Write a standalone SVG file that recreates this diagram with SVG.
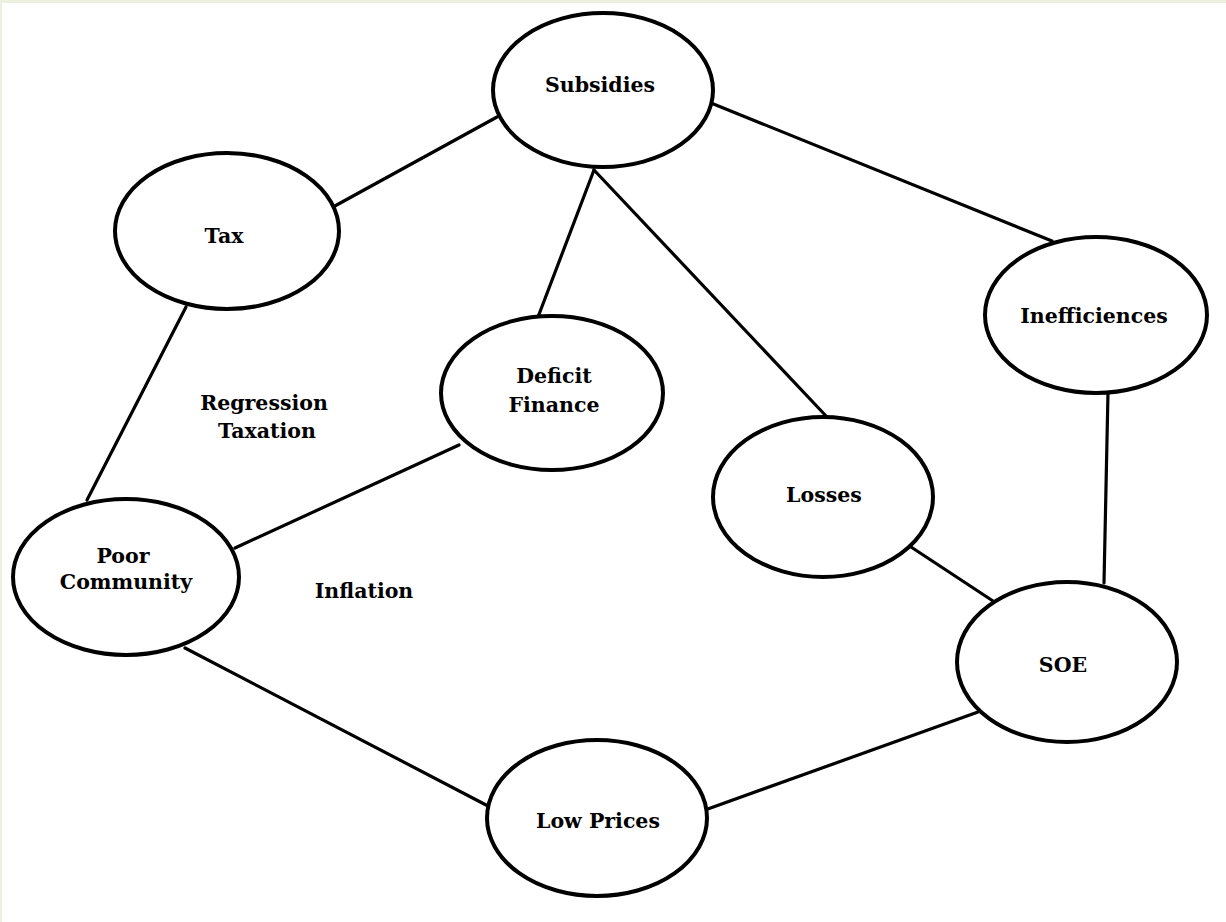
<svg xmlns="http://www.w3.org/2000/svg" width="1226" height="922" viewBox="0 0 1226 922">
  <style>
    .node { fill: #ffffff; stroke: #000000; stroke-width: 4; }
    .edge { stroke: #000000; stroke-width: 3.2; fill: none; stroke-linecap: round; }
    .lbl { font-family: "DejaVu Serif", "Liberation Serif", serif; font-weight: bold; font-size: 20.5px; fill: #000000; text-anchor: middle; }
  </style>
  <rect x="0" y="0" width="1226" height="922" fill="#ebf1de"/>
  <rect x="2" y="3" width="1224" height="919" fill="#ffffff"/>

  <g id="connectors">
    <line class="edge" x1="497" y1="117" x2="333" y2="207"/>
    <line class="edge" x1="711" y1="103" x2="1052" y2="241"/>
    <line class="edge" x1="594" y1="170" x2="538" y2="317"/>
    <line class="edge" x1="594" y1="170" x2="827" y2="417"/>
    <line class="edge" x1="186" y1="307" x2="87" y2="500"/>
    <line class="edge" x1="459" y1="445" x2="235" y2="548"/>
    <line class="edge" x1="1108" y1="392" x2="1104" y2="583"/>
    <line class="edge" x1="908" y1="545" x2="993" y2="601"/>
    <line class="edge" x1="978" y1="712" x2="705" y2="810"/>
    <line class="edge" x1="185" y1="648" x2="488" y2="806"/>
  </g>

  <g id="subsidies">
    <ellipse class="node" cx="603" cy="90" rx="110" ry="77"/>
    <text class="lbl" x="600" y="92">Subsidies</text>
  </g>
  <g id="tax">
    <ellipse class="node" cx="227" cy="231" rx="112" ry="78"/>
    <text class="lbl" x="224" y="243">Tax</text>
  </g>
  <g id="inefficiences">
    <ellipse class="node" cx="1096" cy="315" rx="111" ry="78"/>
    <text class="lbl" x="1094" y="323">Inefficiences</text>
  </g>
  <g id="deficit-finance">
    <ellipse class="node" cx="552" cy="393" rx="111" ry="77"/>
    <text class="lbl" x="554" y="383">Deficit</text>
    <text class="lbl" x="554" y="412">Finance</text>
  </g>
  <g id="losses">
    <ellipse class="node" cx="823" cy="497" rx="110" ry="80"/>
    <text class="lbl" x="824" y="502">Losses</text>
  </g>
  <g id="poor-community">
    <ellipse class="node" cx="126" cy="577" rx="113" ry="78"/>
    <text class="lbl" x="123" y="563">Poor</text>
    <text class="lbl" x="126" y="589">Community</text>
  </g>
  <g id="soe">
    <ellipse class="node" cx="1067" cy="662" rx="110" ry="80"/>
    <text class="lbl" x="1063" y="672">SOE</text>
  </g>
  <g id="low-prices">
    <ellipse class="node" cx="597" cy="818" rx="110" ry="78"/>
    <text class="lbl" x="598" y="828">Low Prices</text>
  </g>

  <g id="labels">
    <text class="lbl" x="264" y="410">Regression</text>
    <text class="lbl" x="267" y="438">Taxation</text>
    <text class="lbl" x="364" y="598">Inflation</text>
  </g>
</svg>
